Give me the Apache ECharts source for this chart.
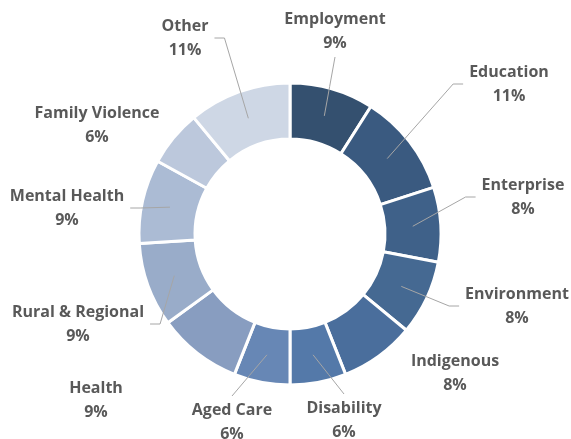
<!DOCTYPE html>
<html>
<head>
<meta charset="utf-8">
<script src="https://cdn.jsdelivr.net/npm/echarts@6/dist/echarts.min.js"></script>
<style>
html,body{margin:0;padding:0;background:#fff;}
#chart{width:571px;height:439px;}
</style>
</head>
<body>
<div id="chart"></div>
<script>
const categories = ['Employment','Education','Enterprise','Environment','Indigenous','Disability','Aged Care','Health','Rural & Regional','Mental Health','Family Violence','Other'];
const values = [9, 11, 8, 8, 8, 6, 6, 9, 9, 9, 6, 11];
const colors = ['#34506f','#3a5a80','#3f6189','#456992','#4a6e9c','#5479a9','#6787b5','#889dc0','#99acc9','#abbbd4','#bcc8dc','#ced7e5'];
// label anchor spots (annotation layout, px) and whether a leader line is drawn
const labelSpots = [[335,31],[509,84],[523,197],[517,306],[455,373],[344,420],[232,422],[96,400],[78,324],[67,208],[97,125],[185,38]];
const leaderShown = [true,true,true,true,false,true,true,false,true,true,false,true];

const CX = 290, CY = 234, R_IN = 95, R_OUT = 151;
const total = values.reduce((a,b)=>a+b,0);
const midAngles = [];
{ let cum = 0; values.forEach(v => { midAngles.push(2*Math.PI*(cum + v/2)/total); cum += v; }); }

const chart = echarts.init(document.getElementById('chart'), null, {renderer:'canvas'});
chart.setOption({
  animation:false,
  backgroundColor:'#ffffff',
  series:[{
    type:'pie',
    z:2,
    center:[CX, CY],
    radius:[R_IN, R_OUT],
    startAngle:90,
    clockwise:true,
    silent:true,
    itemStyle:{borderColor:'#ffffff', borderWidth:3},
    label:{show:false},
    labelLine:{show:false},
    data: categories.map((c,i)=>({name:c, value:values[i], itemStyle:{color:colors[i]}}))
  },{
    type:'pie',
    z:3,
    center:[CX, CY],
    radius:[R_IN, R_OUT],
    startAngle:90,
    clockwise:true,
    silent:true,
    avoidLabelOverlap:false,
    itemStyle:{color:'rgba(0,0,0,0)', borderWidth:0},
    label:{
      show:true,
      position:'outside',
      formatter: p => p.name + '\n' + p.value + '%',
      fontFamily:'Open Sans',
      fontWeight:'bold',
      fontSize:16,
      lineHeight:24,
      color:'#595959',
      align:'center'
    },
    labelLine:{show:true, lineStyle:{color:'#a6a6a6', width:1}},
    labelLayout: function(params){
      const i = params.dataIndex;
      const [lx, ly] = labelSpots[i];
      const w = params.labelRect.width, h = params.labelRect.height;
      const th = midAngles[i];
      const rm = (R_IN + R_OUT)/2;
      const sx = CX + rm*Math.sin(th), sy = CY - rm*Math.cos(th);
      let pts;
      const left = lx - w/2, right = lx + w/2;
      if (sx >= left && sx <= right) {
        const ey = sy < ly ? ly - h/2 - 2 : ly + h/2 + 2;
        pts = [[sx,sy],[(sx+lx)/2,(sy+ey)/2],[lx,ey]];
      } else if (sx > right) {
        const ex = right + 6;
        pts = [[sx,sy],[ex+10,ly],[ex,ly]];
      } else {
        const ex = left - 6;
        pts = [[sx,sy],[ex-10,ly],[ex,ly]];
      }
      const out = {x:lx, y:ly, align:'center', verticalAlign:'middle'};
      if (leaderShown[i]) out.labelLinePoints = pts;
      return out;
    },
    data: categories.map((c,i)=>({
      name:c, value:values[i],
      labelLine:{show:leaderShown[i]}
    }))
  }]
});
</script>
</body>
</html>
